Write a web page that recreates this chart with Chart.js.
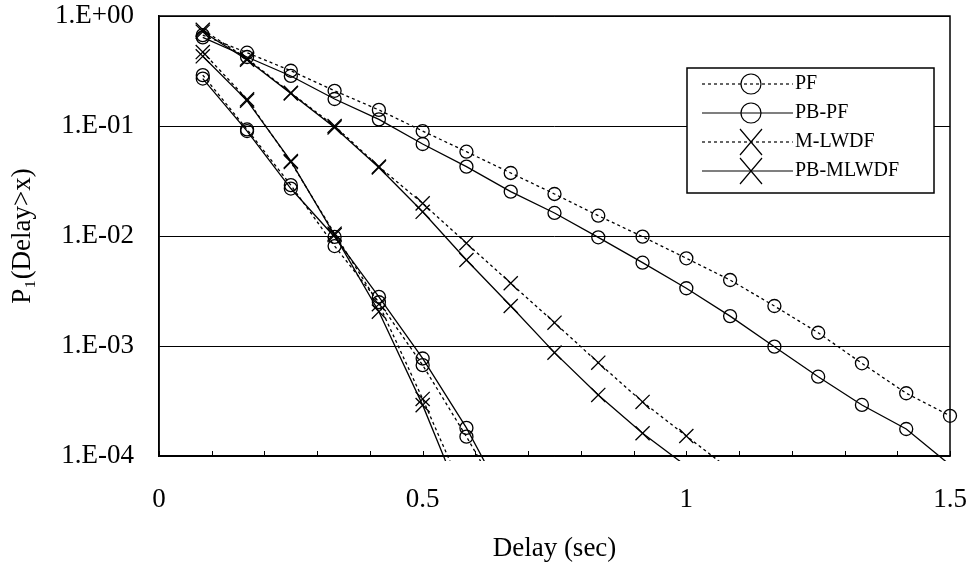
<!DOCTYPE html>
<html>
<head>
<meta charset="utf-8">
<script src="https://cdn.jsdelivr.net/npm/chart.js@4"></script>
<style>
  html, body { margin: 0; padding: 0; background: #fff; }
</style>
</head>
<body>
<canvas id="delayChart" width="971" height="569"></canvas>
<script>
// delay (sec) at which every curve is sampled
const delays = [0.083, 0.167, 0.25, 0.333, 0.417, 0.5, 0.583, 0.667, 0.75, 0.833, 0.917, 1.0, 1.083, 1.167, 1.25, 1.333, 1.417, 1.5];
const seriesNames = ['PF', 'PB-PF', 'M-LWDF', 'PB-MLWDF'];

// heavier load (slow decay)
const pfHigh = [0.67, 0.464, 0.318, 0.209, 0.140, 0.090, 0.0584, 0.0374, 0.0241, 0.0153, 0.00986, 0.00627, 0.00398, 0.00231, 0.00132, 0.000696, 0.000372, 0.000232];
const pbpfHigh = [0.64, 0.424, 0.285, 0.176, 0.115, 0.0686, 0.0427, 0.0253, 0.0162, 0.00973, 0.00572, 0.00335, 0.00187, 0.000986, 0.000526, 0.000291, 0.000176, 0.000083];
const mlwdfHigh = [0.75, 0.41, 0.20, 0.10, 0.0427, 0.0198, 0.0086, 0.00372, 0.00163, 0.000705, 0.00031, 0.000152, 0.000075];
const pbmlwdfHigh = [0.72, 0.40, 0.198, 0.097, 0.042, 0.0166, 0.00605, 0.00231, 0.00087, 0.000359, 0.000161, 0.000081];

// lighter load (fast decay)
const pfLow = [0.29, 0.093, 0.029, 0.0081, 0.0025, 0.00067, 0.00015, 0.00003];
const pbpfLow = [0.27, 0.09, 0.027, 0.0098, 0.0028, 0.00077, 0.00018, 0.000032];
const mlwdfLow = [0.47, 0.175, 0.047, 0.0105, 0.0024, 0.00033, 0.000041];
const pbmlwdfLow = [0.43, 0.17, 0.048, 0.0102, 0.00205, 0.00029, 0.000031];

const yTicks = [1e-4, 1e-3, 1e-2, 1e-1, 1];
const yTickLabels = ['1.E-04', '1.E-03', '1.E-02', '1.E-01', '1.E+00'];
const xTickLabels = ['0', '0.5', '1', '1.5'];

const serif = '"Liberation Serif", "Times New Roman", serif';
const dotted = [3, 3];

function makeSet(name, values, kind, dash) {
  const r = kind === 'circle' ? 6.5 : 10;
  return {
    label: name,
    data: values.map((v, i) => ({ x: delays[i], y: v })),
    borderColor: '#000',
    borderWidth: 1.3,
    borderDash: dash,
    tension: 0,
    fill: false,
    pointStyle: kind,
    pointRadius: (c) => (c.raw && c.raw.y < 1e-4 ? 0 : r),
    pointBorderColor: '#000',
    pointBackgroundColor: 'rgba(0,0,0,0)',
    pointBorderWidth: 1.3,
    clip: { left: 0, top: 12, right: 12, bottom: 5 },
  };
}

// frame, inward x ticks, legend box
const decorations = {
  id: 'decorations',
  afterDraw(chart) {
    const { ctx, chartArea: a, scales } = chart;
    const x = scales.x;
    ctx.save();
    ctx.strokeStyle = '#000';
    ctx.lineWidth = 1.5;
    ctx.strokeRect(a.left, a.top, a.right - a.left, a.bottom - a.top);
    ctx.lineWidth = 1;
    x.ticks.forEach((t) => {
      const px = Math.round(x.getPixelForValue(t.value)) + 0.5;
      ctx.beginPath();
      ctx.moveTo(px, a.bottom);
      ctx.lineTo(px, a.bottom - 5);
      ctx.stroke();
    });

    const bx = 687, by = 68, bw = 247, bh = 125;
    ctx.fillStyle = '#fff';
    ctx.fillRect(bx, by, bw, bh);
    ctx.lineWidth = 1.5;
    ctx.strokeRect(bx, by, bw, bh);
    ctx.font = '20px ' + serif;
    ctx.textBaseline = 'middle';
    ctx.fillStyle = '#000';
    chart.data.datasets.slice(0, 4).forEach((ds, i) => {
      const y = by + 16 + i * 29;
      ctx.lineWidth = 1.2;
      ctx.setLineDash(ds.borderDash);
      ctx.beginPath();
      ctx.moveTo(702, y);
      ctx.lineTo(793, y);
      ctx.stroke();
      ctx.setLineDash([]);
      ctx.beginPath();
      if (ds.pointStyle === 'circle') {
        ctx.arc(751, y, 10, 0, Math.PI * 2);
      } else {
        ctx.moveTo(740, y - 13); ctx.lineTo(762, y + 13);
        ctx.moveTo(762, y - 13); ctx.lineTo(740, y + 13);
      }
      ctx.stroke();
      ctx.fillText(ds.label, 795, y);
    });
    ctx.restore();
  },
};

const ctx = document.getElementById('delayChart').getContext('2d');
new Chart(ctx, {
  type: 'line',
  data: {
    datasets: [
      makeSet(seriesNames[0], pfHigh, 'circle', dotted),
      makeSet(seriesNames[1], pbpfHigh, 'circle', []),
      makeSet(seriesNames[2], mlwdfHigh, 'crossRot', dotted),
      makeSet(seriesNames[3], pbmlwdfHigh, 'crossRot', []),
      makeSet(seriesNames[0], pfLow, 'circle', dotted),
      makeSet(seriesNames[1], pbpfLow, 'circle', []),
      makeSet(seriesNames[2], mlwdfLow, 'crossRot', dotted),
      makeSet(seriesNames[3], pbmlwdfLow, 'crossRot', []),
    ],
  },
  options: {
    responsive: false,
    animation: false,
    layout: { padding: { top: 16, right: 21, left: 0, bottom: 0 } },
    plugins: { legend: { display: false }, tooltip: { enabled: false } },
    scales: {
      x: {
        type: 'linear',
        min: 0,
        max: 1.5,
        ticks: {
          stepSize: 0.1,
          padding: 28,
          maxRotation: 0,
          autoSkip: false,
          color: '#000',
          font: { family: serif, size: 27 },
          callback: (v) => {
            const k = Math.round(v * 2);
            return Math.abs(v * 2 - k) < 1e-6 ? xTickLabels[k] : '';
          },
        },
        grid: { drawOnChartArea: false, drawTicks: false },
        border: { color: '#000', width: 1.5 },
        title: {
          display: true,
          text: 'Delay (sec)',
          color: '#000',
          font: { family: serif, size: 27 },
          padding: { top: 4, bottom: 4 },
        },
        afterFit: (s) => { s.height = 113; s.paddingLeft = 0; s.paddingRight = 0; },
      },
      y: {
        type: 'logarithmic',
        min: 1e-4,
        max: 1,
        afterBuildTicks: (s) => { s.ticks = yTicks.map((v) => ({ value: v })); },
        ticks: {
          padding: 25,
          color: '#000',
          font: { family: serif, size: 27 },
          callback: (v) => yTickLabels[yTicks.findIndex((t) => Math.abs(Math.log10(t) - Math.log10(v)) < 1e-6)],
        },
        grid: { color: '#000', lineWidth: 1, drawTicks: false },
        border: { color: '#000', width: 1.5 },
        title: {
          display: true,
          text: 'P\u2081(Delay>x)',
          color: '#000',
          font: { family: serif, size: 27 },
          padding: { top: 7, bottom: 4 },
        },
        afterFit: (s) => { s.width = 159; s.paddingTop = 0; s.paddingBottom = 0; },
      },
    },
  },
  plugins: [decorations],
});
</script>
</body>
</html>
